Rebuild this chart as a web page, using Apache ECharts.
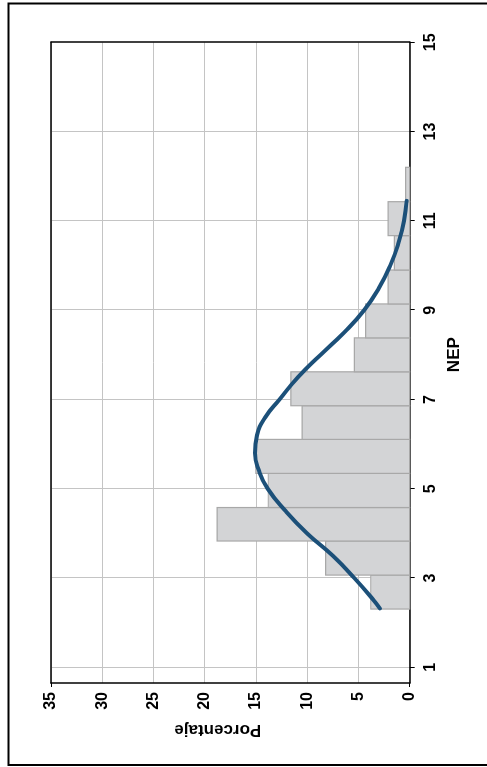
<!DOCTYPE html>
<html>
<head>
<meta charset="utf-8">
<script src="https://cdn.jsdelivr.net/npm/echarts@6/dist/echarts.min.js"></script>
<style>
  html, body { margin: 0; padding: 0; background: #ffffff; overflow: hidden; }
  body { width: 487px; height: 767px; position: relative; }
  /* chart is laid out landscape and turned a quarter turn counter-clockwise */
  #chart {
    position: absolute; left: 0; top: 0;
    width: 767px; height: 487px;
    transform-origin: 0 0;
    transform: translate(0, 767px) rotate(-90deg);
  }
</style>
</head>
<body>
<div id="chart"></div>
<script>
// histogram bin edges (NEP) and share of cases per bin (%)
const binEdges = [2.306, 3.067, 3.83, 4.58, 5.345, 6.106, 6.86, 7.62, 8.38, 9.14, 9.9, 10.67, 11.43, 12.2];
const binPercent = [3.8, 8.2, 18.8, 13.8, 15.0, 10.5, 11.6, 5.4, 4.3, 2.1, 1.5, 2.1, 0.4];

// fitted normal curve, sampled along NEP
const curveNEP = [2.32, 2.5, 3.0, 3.5, 4.0, 4.5, 5.0, 5.4, 5.8, 6.2, 6.6, 7.0, 7.5, 8.0, 8.5, 9.0, 9.5, 10.0, 10.5, 11.0, 11.45];
const curvePercent = [2.9, 3.5, 5.4, 7.5, 10.0, 12.1, 13.85, 14.7, 15.1, 14.9, 14.1, 12.7, 10.9, 8.7, 6.4, 4.45, 3.0, 1.9, 1.1, 0.55, 0.3];

// axis ticks
const nepTicks = [1, 3, 5, 7, 9, 11, 13, 15];
const percentTicks = [0, 5, 10, 15, 20, 25, 30, 35];
const percentEndTicks = [0, 35];

const barData = binPercent.map((v, i) => [binEdges[i], binEdges[i + 1], v]);
const curveData = curveNEP.map((x, i) => [x, curvePercent[i]]);

const font = '"Liberation Sans", Arial, sans-serif';
const nepRange = { min: 0.65, max: 15 };
const pctRange = { min: 0, max: 35 };
const frameLine = { show: true, onZero: false, lineStyle: { color: '#000', width: 1.5 } };
const blackTick = { color: '#000', width: 1 };

const chart = echarts.init(document.getElementById('chart'), null, { renderer: 'canvas' });

chart.setOption({
  backgroundColor: '#ffffff',
  animation: false,
  graphic: [{
    type: 'rect',
    shape: { x: 2, y: 8.5, width: 761.5, height: 520 },
    style: { fill: 'none', stroke: '#000000', lineWidth: 2 },
    silent: true, z: 100
  }],
  grid: {
    left: 84, right: 42.3, top: 51, bottom: 77.3,
    containLabel: false
  },
  xAxis: [{
    type: 'value',
    min: nepRange.min, max: nepRange.max,
    name: 'NEP',
    nameLocation: 'middle',
    nameGap: 36,
    nameTextStyle: { fontFamily: font, fontSize: 17, fontWeight: 'bold', color: '#000', padding: [0, 0, 0, 16] },
    axisLine: frameLine,
    axisTick: { show: true, customValues: nepTicks, length: 5, lineStyle: blackTick },
    axisLabel: { customValues: nepTicks, margin: 13, fontFamily: font, fontSize: 16, fontWeight: 'bold', color: '#000' },
    splitLine: { show: true, showMaxLine: false, lineStyle: { color: '#c4c4c4', width: 1 } },
    z: 1
  }, {
    // top edge of the plot frame
    type: 'value', position: 'top',
    min: nepRange.min, max: nepRange.max,
    axisLine: frameLine, axisTick: { show: false }, axisLabel: { show: false }, splitLine: { show: false },
    z: 5
  }],
  yAxis: [{
    type: 'value',
    min: pctRange.min, max: pctRange.max, interval: 5,
    name: 'Porcentaje',
    nameLocation: 'middle',
    nameGap: 38,
    nameTextStyle: { fontFamily: font, fontSize: 17, fontWeight: 'bold', color: '#000', padding: [0, 0, 0, 25] },
    axisLine: frameLine,
    axisTick: { show: false },
    axisLabel: { margin: 9, fontFamily: font, fontSize: 16, fontWeight: 'bold', color: '#000' },
    splitLine: { show: true, lineStyle: { color: '#c4c4c4', width: 1 } },
    z: 1
  }, {
    // right edge of the plot frame
    type: 'value', position: 'right',
    min: pctRange.min, max: pctRange.max,
    axisLine: frameLine,
    axisTick: { show: false }, axisLabel: { show: false }, splitLine: { show: false },
    z: 5
  }, {
    // end ticks on the percentage axis
    type: 'value', position: 'left',
    min: pctRange.min, max: pctRange.max,
    axisLine: { show: false },
    axisTick: { show: true, customValues: percentEndTicks, length: 4, lineStyle: blackTick },
    axisLabel: { show: false }, splitLine: { show: false },
    z: 5
  }],
  series: [
    {
      type: 'custom',
      name: 'Histograma',
      data: barData,
      encode: { x: [0, 1], y: 2 },
      renderItem: function (params, api) {
        const p0 = api.coord([api.value(0), api.value(2)]);
        const p1 = api.coord([api.value(1), 0]);
        return {
          type: 'rect',
          shape: { x: p0[0], y: p0[1], width: p1[0] - p0[0], height: p1[1] - p0[1] },
          style: { fill: '#d3d4d6', stroke: '#a8a8a8', lineWidth: 1.2 }
        };
      },
      z: 2
    },
    {
      type: 'line',
      name: 'Normal',
      data: curveData,
      smooth: 0.5,
      symbol: 'none',
      lineStyle: { color: '#1c5079', width: 4, cap: 'round' },
      z: 3
    }
  ]
});
</script>
</body>
</html>
